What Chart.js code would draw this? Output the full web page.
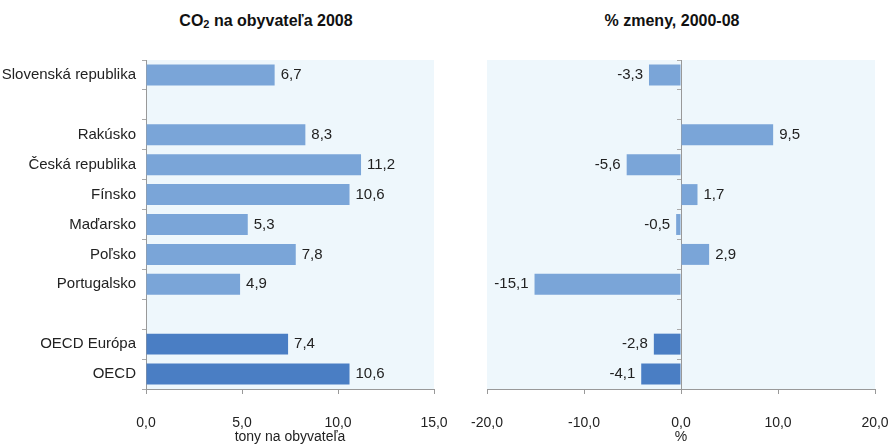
<!DOCTYPE html>
<html>
<head>
<meta charset="utf-8">
<title>CO2 na obyvateľa</title>
<script src="https://cdn.jsdelivr.net/npm/chart.js"></script>
<style>
  body { margin: 0; background: #fff; width: 890px; height: 446px; position: relative; overflow: hidden;
         font-family: 'Liberation Sans Narrow', 'Liberation Sans', Arial, sans-serif; }
  .title { position: absolute; top: 12px; font-weight: bold; font-size: 16px; color: #111; white-space: nowrap;
           transform: translateX(-50%); }
  .title sub { font-size: 11px; vertical-align: -2px; }
  #wrapL { position: absolute; left: 0; top: 0; width: 450px; height: 446px; }
  #wrapR { position: absolute; left: 445px; top: 0; width: 445px; height: 446px; }
</style>
</head>
<body>
<div class="title" style="left:266px">CO<sub>2</sub> na obyvateľa 2008</div>
<div class="title" style="left:672px">% zmeny, 2000-08</div>
<div id="wrapL"><canvas id="left"></canvas></div>
<div id="wrapR"><canvas id="right"></canvas></div>

<script>
    // data (null = spacer row)
    const categories = ['Slovenská republika', '', 'Rakúsko', 'Česká republika', 'Fínsko', 'Maďarsko',
                        'Poľsko', 'Portugalsko', '', 'OECD Európa', 'OECD'];
    const co2PerCapita = [6.7, null, 8.3, 11.2, 10.6, 5.3, 7.8, 4.9, null, 7.4, 10.6];
    const changePct = [-3.3, null, 9.5, -5.6, 1.7, -0.5, 2.9, -15.1, null, -2.8, -4.1];
    const leftTicks = [0, 5, 10, 15];
    const rightTicks = [-20, -10, 0, 10, 20];

    const FONT = "'Liberation Sans Narrow', 'Liberation Sans', Arial, sans-serif";
    const LIGHT = '#7aa5d8';
    const DARK = '#4a7ec4';
    const barColors = categories.map(c => c.startsWith('OECD') ? DARK : LIGHT);

    function fmt(v) {
        return v.toFixed(1).replace('.', ',');
    }

    // light blue plot background
    const plotBg = {
        id: 'plotBg',
        beforeDraw(chart) {
            const a = chart.chartArea;
            const ctx = chart.ctx;
            ctx.save();
            ctx.fillStyle = '#eef7fc';
            ctx.fillRect(a.left, a.top, a.right - a.left, a.bottom - a.top);
            ctx.restore();
        }
    };

    // value labels at the end of each bar
    const valueLabels = {
        id: 'valueLabels',
        afterDatasetsDraw(chart) {
            const ctx = chart.ctx;
            const ds = chart.data.datasets[0];
            const meta = chart.getDatasetMeta(0);
            ctx.save();
            ctx.font = '15px ' + FONT;
            ctx.fillStyle = '#222';
            ctx.textBaseline = 'middle';
            meta.data.forEach((bar, i) => {
                const v = ds.data[i];
                if (v === null) return;
                if (v >= 0) {
                    ctx.textAlign = 'left';
                    ctx.fillText(fmt(v), bar.x + 6, bar.y);
                } else {
                    ctx.textAlign = 'right';
                    ctx.fillText(fmt(v), bar.x - 6, bar.y);
                }
            });
            ctx.restore();
        }
    };

    function makeChart(id, values, ticks, axisTitle, padLeft, padRight, isRight) {
        return new Chart(document.getElementById(id), {
            type: 'bar',
            data: {
                labels: categories,
                datasets: [{
                    data: values,
                    backgroundColor: barColors,
                    borderWidth: 0,
                    categoryPercentage: 1,
                    barPercentage: 0.7
                }]
            },
            options: {
                indexAxis: 'y',
                responsive: true,
                maintainAspectRatio: false,
                animation: false,
                layout: { padding: { top: 60, left: padLeft, right: padRight, bottom: 0 } },
                plugins: {
                    legend: { display: false },
                    tooltip: { enabled: false },
                    title: { display: false }
                },
                scales: {
                    x: {
                        min: ticks[0],
                        max: ticks[ticks.length - 1],
                        afterBuildTicks: axis => { axis.ticks = ticks.map(v => ({ value: v })); },
                        afterFit: axis => {
                            axis.height = 57;
                            axis.paddingLeft = 0;
                            axis.paddingRight = 0;
                        },
                        grid: { drawOnChartArea: false, color: '#999', tickLength: 5 },
                        border: { color: '#999' },
                        ticks: {
                            padding: 21,
                            color: '#222',
                            font: { family: FONT, size: 14 },
                            callback: v => fmt(v)
                        },
                        title: {
                            display: true,
                            text: axisTitle,
                            color: '#222',
                            padding: { top: 0, bottom: 0 },
                            font: { family: FONT, size: 14 }
                        }
                    },
                    y: {
                        position: isRight ? { x: 0 } : 'left',
                        afterFit: axis => { if (!isRight) axis.width = 146; },
                        grid: { drawOnChartArea: false, color: '#aaa', tickLength: 4 },
                        border: { color: '#999' },
                        ticks: {
                            display: !isRight,
                            padding: 6,
                            color: '#222',
                            font: { family: FONT, size: 15 }
                        }
                    }
                }
            },
            plugins: [plotBg, valueLabels]
        });
    }

    makeChart('left', co2PerCapita, leftTicks, 'tony na obyvateľa', 0, 16, false);
    makeChart('right', changePct, rightTicks, '%', 42, 15, true);
</script>
</body>
</html>
